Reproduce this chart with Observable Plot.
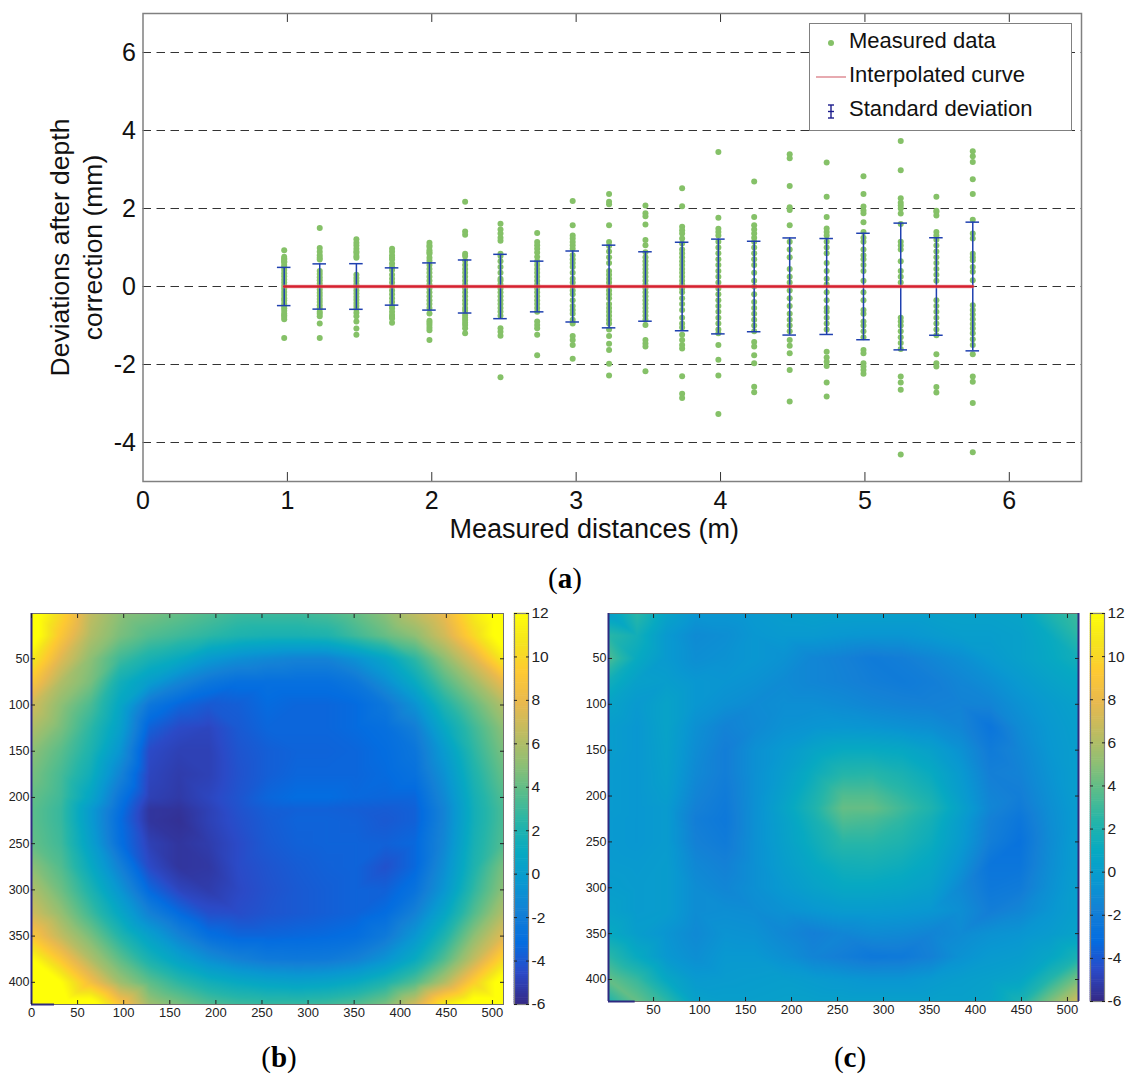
<!DOCTYPE html>
<html><head><meta charset="utf-8">
<script src="https://cdn.jsdelivr.net/npm/d3@7"></script>
<script src="https://cdn.jsdelivr.net/npm/@observablehq/plot@0.6"></script>
<style>
html,body{margin:0;padding:0;background:#fff;}
#root{position:relative;width:1126px;height:1074px;overflow:hidden;font-family:"Liberation Sans",Arial,sans-serif;}
#root>*{position:absolute;}
#root svg{overflow:visible;background:transparent;}
.cap{font-family:"Liberation Serif",serif;font-size:29px;line-height:30px;transform:translateX(-50%);color:#000;}
#legend{left:809px;top:23px;width:261px;height:106px;background:#fff;border:1.5px solid #808080;box-sizing:content-box;font-size:22px;color:#111;}
#legend .row{position:absolute;left:39px;white-space:nowrap;line-height:24px;}
#legend svg{position:absolute;left:0;top:0;}
</style></head><body><div id="root"></div>
<script>
const distances=[0.978,1.224,1.478,1.725,1.984,2.231,2.476,2.73,2.976,3.228,3.48,3.734,3.985,4.233,4.479,4.735,4.99,5.248,5.495,5.747];
const stdDevs=[0.49,0.58,0.585,0.478,0.605,0.68,0.825,0.65,0.91,1.06,0.89,1.135,1.215,1.16,1.245,1.23,1.365,1.625,1.25,1.65];
const measuredDeviations=[
[.93,.76,.72,.69,.65,.62,.55,.5,.42,.34,.26,.18,.1,.02,-.06,-.14,-.22,-.3,-.36,-.44,-.5,-.56,-.62,-.69,-.74,-.78,-.84,-1.32],
[1.5,.99,.89,.8,.74,.69,.4,.32,.24,.16,.08,0,-.08,-.16,-.24,-.32,-.4,-.48,-.56,-.65,-.7,-.76,-.95,-1.32],
[1.21,1.12,1.05,.97,.9,.86,.78,.74,.3,.22,.14,.06,-.02,-.1,-.18,-.26,-.34,-.42,-.5,-.58,-.67,-.76,-.9,-1.08,-1.24],
[.97,.89,.8,.74,.69,.59,.5,.42,.3,.2,.1,0,-.1,-.2,-.3,-.4,-.5,-.56,-.65,-.73,-.78,-.82,-.93],
[1.12,1.05,1.01,.93,.88,.84,.74,.66,.55,.45,.35,.25,.15,.05,-.05,-.15,-.25,-.35,-.45,-.55,-.69,-.88,-.93,-.99,-1.06,-1.12,-1.37],
[2.17,1.41,1.33,.84,.78,.66,.55,.45,.35,.25,.15,.05,-.05,-.15,-.25,-.35,-.45,-.55,-.62,-.73,-.8,-.86,-.93,-.99,-1.07,-1.2],
[1.61,1.46,1.36,1.25,1.17,.84,.78,.65,.5,.35,.2,.15,.05,-.05,-.15,-.25,-.35,-.45,-.55,-.65,-.75,-1.07,-1.16,-1.26,-2.33],
[1.37,1.14,1.06,.97,.87,.76,.65,.55,.45,.35,.25,.15,.05,-.05,-.15,-.25,-.35,-.45,-.55,-.65,-.9,-.99,-1.07,-1.24,-1.76],
[2.19,1.57,1.31,1.23,1.14,1.06,.97,.8,.7,.6,.5,.35,.2,.1,0,-.1,-.2,-.35,-.5,-.6,-.7,-.85,-.95,-1.27,-1.37,-1.5,-1.85],
[2.37,2.17,2.11,1.57,1.14,1.04,.9,.75,.6,.4,.3,.2,.1,0,-.1,-.2,-.3,-.45,-.55,-.65,-.75,-.85,-.95,-1.1,-1.27,-1.47,-1.63,-1.98,-2.28],
[2.08,1.88,1.8,1.59,1.19,1.06,.88,.75,.65,.55,.45,.35,.25,.15,.05,-.05,-.15,-.25,-.35,-.45,-.55,-.65,-.75,-.85,-.99,-1.37,-1.46,-1.54,-2.17],
[2.52,2.06,1.53,1.44,1.36,1.23,1.1,.95,.85,.75,.65,.55,.45,.35,.25,.15,.05,-.05,-.15,-.3,-.45,-.6,-.8,-.95,-1.05,-1.24,-1.37,-1.5,-1.59,-2.3,-2.75,-2.86],
[3.45,1.76,1.48,1.4,1.31,1.15,1,.85,.7,.55,.4,.25,.1,-.05,-.2,-.35,-.5,-.65,-.8,-.95,-1.1,-1.2,-1.5,-1.88,-2.28,-3.27],
[2.69,1.78,1.57,1.46,1.36,1.25,1.15,1,.85,.7,.55,.35,.15,0,-.2,-.4,-.55,-.7,-.85,-1,-1.15,-1.42,-1.54,-1.76,-1.97,-2.57,-2.71],
[3.39,3.29,2.58,2.03,1.96,1.57,1.15,.95,.75,.45,.25,.1,-.1,-.3,-.5,-.7,-.85,-1,-1.15,-1.37,-1.52,-1.71,-2.14,-2.95],
[3.18,2.3,1.78,1.49,1.4,1.31,1.15,1,.85,.6,.4,.2,.05,-.15,-.35,-.55,-.65,-.8,-.95,-1.1,-1.67,-1.82,-1.93,-2.04,-2.46,-2.82],
[2.83,2.37,2.05,1.95,1.88,1.65,1.4,1.25,1.15,.95,.8,.7,.55,.4,.15,-.15,-.35,-.6,-.7,-.9,-1,-1.15,-1.3,-1.63,-1.71,-1.97,-2.05,-2.14,-2.24],
[3.73,2.98,2.26,2.15,2.08,2,1.87,1.6,1.15,1.05,.95,.65,.4,.25,.1,-.8,-.9,-1,-1.15,-1.3,-1.45,-1.6,-2.31,-2.46,-2.65,-4.31],
[2.3,1.94,1.91,1.82,1.4,1.31,1.2,1.05,.9,.75,.6,.45,.3,.15,-.35,-.5,-.65,-.8,-.95,-1.1,-1.25,-1.74,-1.97,-2.05,-2.58,-2.72],
[3.47,3.34,3.19,2.75,2.37,1.71,1.36,1.23,.84,.75,.67,.5,.38,.16,-.48,-.6,-.72,-.84,-.96,-1.08,-1.2,-1.35,-1.5,-1.74,-2.31,-2.44,-2.99,-4.25]
];
const xTicksA=[0,1,2,3,4,5,6];
const yTicksA=[-4,-2,0,2,4,6];
const gridCols=[0,32,64,96,128,160,192,224,256,288,320,352,384,416,448,480,512];
const gridRows=[0,25,50,75,100,125,150,175,200,213,225,250,275,300,325,350,375,400,424];
const fieldB=[
[13,10,6.5,5,4.5,4,3.5,3,3,3,3.3,4,5,6.5,8,11,13],
[13,9,6,4.5,3.5,3,2.5,2,1.8,1.8,2,3,4,5,7,10,13],
[11,7.5,5,3,1.8,1,-.3,-1,-1.4,-1.7,-1.7,-.8,.5,2.5,5,7.5,11],
[9,6,4.5,1.5,0,-1.5,-2.5,-3,-3,-3,-3,-2.5,-1,1,3.5,5.5,8],
[7,5,3.3,.7,-2.5,-3.5,-4,-3.8,-3.3,-3.5,-3.5,-3.3,-2.5,-.8,2,4,6],
[6,4.5,2.5,.2,-3.7,-4.6,-4.8,-4,-3.5,-3.5,-3.5,-3.3,-3,-2,.8,3,5],
[5,3.7,2,-.6,-4.6,-5,-5,-4.2,-3.8,-3.6,-3.6,-3.5,-3.2,-2.6,-.2,2.5,4.5],
[4.5,3.2,1.4,-1.6,-4.8,-5.2,-5,-4.3,-3.8,-3.5,-3.5,-3.5,-3.3,-2.9,-.8,2,4],
[4,3,.6,-2.6,-5,-5.3,-4.8,-4.2,-3.5,-3.2,-3.2,-3.4,-3.5,-3.5,-1.3,1.6,3.5],
[3.8,2.8,-.2,-3,-5.5,-5.6,-5,-4.3,-3.8,-3.7,-3.7,-3.8,-3.9,-3.7,-1.6,1.5,3.3],
[3.8,2.8,-.2,-3.2,-5.5,-5.7,-5,-4.4,-3.9,-3.6,-3.6,-3.7,-4,-3.7,-1.6,1.5,3.3],
[4,3,.2,-3,-5,-5.5,-5.2,-4.6,-4,-3.7,-3.6,-3.6,-3.7,-3.4,-1.4,1.7,3.5],
[5,3.5,1,-1.8,-4.6,-5.5,-5.4,-4.6,-4.2,-3.9,-3.7,-3.6,-4.3,-3.4,-1,2,4.5],
[6,4.2,2,-.6,-3.4,-4.8,-5.2,-4.7,-4.3,-4,-3.8,-3.6,-3.7,-2.8,-.5,2.6,5],
[7,5.2,3,.7,-1.8,-3.3,-4.4,-4.5,-4.2,-4,-3.8,-3.6,-3.2,-1.8,.6,3.5,6],
[9,6.5,4.5,2.2,.2,-1.6,-3,-3.5,-3.5,-3.4,-3.3,-3.1,-2.3,-.5,2,5,7.5],
[12,9,6,3.8,1.8,.3,-1,-1.8,-2.3,-2.4,-2.3,-1.8,-.7,1,3.5,6.5,10],
[13,12,8.5,5.5,3.8,2.5,1.5,.9,.5,.3,.5,1,2,3.5,6,9.5,13],
[13,13,13,9,5.5,4.5,3.5,3,2.8,2.8,3,3.5,4.5,7,11,13,13]
];
const fieldC=[
[0,2.5,.5,-.5,-.5,-.3,0,.2,.2,.2,.2,.2,.3,.3,.5,2,3],
[2.5,1.5,-.3,-1.2,-1,-.5,-.3,-.3,-.5,-.6,-.6,-.3,0,0,.2,1,2.5],
[3.5,1,-.3,-1,-.8,-.5,-.8,-1.5,-1.8,-2.2,-2,-1.5,-1,-.3,.2,.8,1.5],
[1.5,.2,0,-.5,-.6,-.8,-1.2,-1.5,-1.7,-2,-2.2,-2,-1.5,-1,-.3,.3,.8],
[.5,-.3,.4,-.5,-.9,-1.2,-1,-1,-1.2,-1.5,-1.7,-1.8,-1.7,-1.6,-.8,-.2,.3],
[0,-.5,.4,-.9,-1.7,-1.3,-.8,-.6,-.5,-.6,-.8,-1,-1.5,-2.6,-1.2,-.4,.1],
[0,-.5,.3,-1.1,-2,-.9,-.3,.5,1,1,.8,.2,-.8,-2.2,-1.5,-.5,0],
[-.2,-.5,.2,-1.3,-2,-.9,0,1.2,2.2,2.3,1.8,1,-.3,-1.9,-1.7,-.7,0],
[-.2,-.5,0,-1.6,-2.2,-.9,.3,1.8,3.5,3.5,2.6,1.7,0,-1.6,-2,-.9,0],
[-.2,-.5,-.2,-1.8,-2.3,-.9,.5,2,4,4,3,2,.3,-1.5,-2.2,-1,-.1],
[-.3,-.5,-.2,-2,-2.4,-.9,.3,1.7,3.5,3.3,2.6,1.6,0,-1.8,-2.5,-1.1,-.1],
[-.3,-.5,-.2,-1.8,-2.2,-.9,.2,1.3,2.4,2.4,2,1.2,-.2,-2,-2.8,-1.2,0],
[-.2,-.3,-.1,-1.4,-1.8,-.9,0,.8,1.5,1.6,1.3,.7,-.7,-2.6,-2.6,-1.1,0],
[0,-.2,-.1,-1.1,-1.5,-.9,-.3,.3,.8,.8,.6,.2,-1.3,-2.4,-2.2,-.9,.1],
[.3,-.2,-.1,-1.1,-1,-1.1,-.8,-.5,-.2,-.2,-.3,-.5,-1,-2,-1.5,-.6,.1],
[1,0,-.6,-1.3,-.7,-.8,-1.4,-1.9,-1.5,-1.2,-1.3,-1.6,-1.2,-.8,-.6,-.2,.4],
[2.5,1,-.4,-1,-.4,-.4,-.9,-1.6,-2,-2.4,-2.3,-1.8,-.8,-.3,-.1,.6,1.8],
[4,2.8,.8,-.3,-.2,-.1,0,-.2,-.4,-.6,-.6,-.3,0,.2,.5,2.2,4.5],
[2,4,2.5,.3,.1,.1,.2,.2,.2,.2,.2,.2,.2,.5,1.8,4.5,7]
];
const imageXTicks=[50,100,150,200,250,300,350,400,450,500];
const imageYTicks=[50,100,150,200,250,300,350,400];
const barTicks=[-6,-4,-2,0,2,4,6,8,10,12];
const parula=["#352a87","#2b4ac7","#046de0","#1480d6","#0998d1","#07a9c2","#25b5a9","#59bd8b","#91bf73","#c0bc60","#e9b94e","#fec932","#f5e41d","#ffff08"];

const root=document.getElementById("root");
const place=(el,left,top)=>{el.style.left=left+"px";el.style.top=top+"px";root.appendChild(el);return el;};
const colorScale={type:"linear",domain:[-6,12],clamp:true,interpolate:d3.piecewise(d3.interpolateRgb,parula)};
const FONT='"Liberation Sans",Arial,sans-serif';
const GREEN="#85c168",BLUE="#1f40b0",RED="#d6202f",FRAME="#808080",EDGE="#2f2a80";

// Panel (a)
const points=measuredDeviations.flatMap((col,i)=>col.map(v=>({x:distances[i],y:v})));
const errs=distances.map((x,i)=>({x,s:stdDevs[i]}));
const capHalf=0.047;
const panelA=Plot.plot({
  width:1126,height:560,marginLeft:142.5,marginRight:45,marginTop:13,marginBottom:79,
  style:{fontFamily:FONT,background:"transparent"},
  x:{domain:[0,6.5],axis:null},y:{domain:[-5,7],axis:null},
  marks:[
    Plot.ruleY(yTicksA,{stroke:"#333",strokeWidth:1,strokeDasharray:"8.5,5.5"}),
    Plot.ruleX(xTicksA.slice(1),{y1:-5,y2:-4.77,stroke:"#333",strokeWidth:1}),
    Plot.ruleX(xTicksA.slice(1),{y1:7,y2:6.77,stroke:"#333",strokeWidth:1}),
    Plot.dot(points,{x:"x",y:"y",r:3,fill:GREEN,stroke:"none"}),
    Plot.ruleX(errs,{x:"x",y1:d=>-d.s,y2:d=>d.s,stroke:BLUE,strokeWidth:1.5}),
    Plot.ruleY(errs,{y:d=>d.s,x1:d=>d.x-capHalf,x2:d=>d.x+capHalf,stroke:BLUE,strokeWidth:1.5}),
    Plot.ruleY(errs,{y:d=>-d.s,x1:d=>d.x-capHalf,x2:d=>d.x+capHalf,stroke:BLUE,strokeWidth:1.5}),
    Plot.lineY(distances.map(x=>({x,y:0})),{x:"x",y:"y",stroke:"#e8939a",strokeWidth:4,strokeOpacity:.5}),
    Plot.lineY(distances.map(x=>({x,y:0})),{x:"x",y:"y",stroke:RED,strokeWidth:2.4}),
    Plot.frame({stroke:FRAME,strokeWidth:1.5}),
    Plot.axisX(xTicksA,{anchor:"bottom",tickSize:0,tickPadding:10,fontSize:25,tickFormat:String,color:"#111",label:null}),
    Plot.axisY(yTicksA,{anchor:"left",tickSize:0,tickPadding:7,fontSize:25,tickFormat:String,color:"#111",label:null}),
    Plot.text(["Measured distances (m)"],{frameAnchor:"bottom",dx:-18,dy:56,fontSize:27,fill:"#111"}),
    Plot.text(["Deviations after depth"],{frameAnchor:"left",dx:-82,dy:0,rotate:-90,textAnchor:"middle",fontSize:26.5,fill:"#111"}),
    Plot.text(["correction (mm)"],{frameAnchor:"left",dx:-49,dy:0,rotate:-90,textAnchor:"middle",fontSize:26.5,fill:"#111"})
  ]
});
place(panelA,0,0);

// Legend
const legend=document.createElement("div");legend.id="legend";
legend.innerHTML=`<svg width="261" height="106">
<circle cx="21" cy="19" r="3" fill="${GREEN}"/>
<line x1="6" x2="36" y1="53" y2="53" stroke="#df8e96" stroke-width="1.5"/>
<g stroke="#1c1c8c" stroke-width="1.4"><line x1="21" x2="21" y1="81" y2="94"/><line x1="18" x2="24" y1="81" y2="81"/><line x1="18" x2="24" y1="94" y2="94"/><line x1="18" x2="24" y1="87.5" y2="87.5"/></g></svg>
<div class="row" style="top:5px">Measured data</div><div class="row" style="top:39px">Interpolated curve</div><div class="row" style="top:73px">Standard deviation</div>`;
place(legend,809,23);

// Image panels
function tableOf(field){return gridRows.flatMap((r,i)=>gridCols.map((c,j)=>({c,r,v:field[i][j]})));}
function imagePanel(field,xDomain,yDomain,left,top,w,h,xTicks,edgeMarks){
  const mL=40,mT=8,mB=30;
  const p=Plot.plot({
    width:w+mL+8,height:h+mT+mB,marginLeft:mL,marginRight:8,marginTop:mT,marginBottom:mB,
    style:{fontFamily:FONT,background:"transparent"},
    x:{domain:xDomain,axis:null},y:{domain:yDomain,axis:null},color:colorScale,
    marks:[
      Plot.raster(tableOf(field),{x:"c",y:"r",fill:"v",interpolate:"barycentric",pixelSize:1}),
      Plot.frame({stroke:"#6e6e6e",strokeWidth:1}),
      ...edgeMarks,
      Plot.axisX(xTicks,{anchor:"bottom",tickSize:-4,tickPadding:7,fontSize:13,tickFormat:String,color:"#222",label:null}),
      Plot.axisX(xTicks,{anchor:"top",tickSize:-4,text:null,label:null,color:"#222"}),
      Plot.axisY(imageYTicks,{anchor:"left",tickSize:-4,tickPadding:6,fontSize:12.5,tickFormat:String,color:"#222",label:null}),
      Plot.axisY(imageYTicks,{anchor:"right",tickSize:-4,text:null,label:null,color:"#222"})
    ]
  });
  place(p,left-mL,top-mT);
}
imagePanel(fieldB,[0,512],[424,1],31,613,472,391,[0,...imageXTicks],[
  Plot.ruleX([0],{stroke:EDGE,strokeWidth:2}),
  Plot.ruleY([424],{x1:0,x2:25,stroke:EDGE,strokeWidth:2})
]);
imagePanel(fieldC,[1,512],[424,1],608,613,470,388,imageXTicks,[
  Plot.ruleX([1,512],{stroke:EDGE,strokeWidth:2}),
  Plot.ruleY([424],{x1:1,x2:30,stroke:EDGE,strokeWidth:2})
]);

// Colorbars
const barValues=d3.range(-6,12,0.1);
function colorbar(left,top,w,h){
  const mT=10,mB=10,mR=30;
  const p=Plot.plot({
    width:w+mR,height:h+mT+mB,marginLeft:0,marginRight:mR,marginTop:mT,marginBottom:mB,
    style:{fontFamily:FONT,background:"transparent"},
    x:{domain:[0,1],axis:null},y:{domain:[-6,12],axis:null},color:colorScale,
    marks:[
      Plot.rect(barValues,{x1:0,x2:1,y1:d=>d,y2:d=>d+0.1,fill:d=>d,inset:-0.3}),
      Plot.frame({stroke:"#808080",strokeWidth:1.2}),
      Plot.axisY(barTicks,{anchor:"left",tickSize:-3,text:null,label:null,color:"#222"}),
      Plot.axisY(barTicks,{anchor:"right",tickSize:-3,tickPadding:6,fontSize:15.5,tickFormat:String,color:"#222",label:null})
    ]
  });
  place(p,left,top-mT);
}
colorbar(514,613,14,391);
colorbar(1090,613,14,388);

// Captions
function caption(letter,x,y){const d=document.createElement("div");d.className="cap";d.innerHTML=`(<b>${letter}</b>)`;place(d,x,y);}
caption("a",565,563);
caption("b",279,1042);
caption("c",850,1042);
</script></body></html>
